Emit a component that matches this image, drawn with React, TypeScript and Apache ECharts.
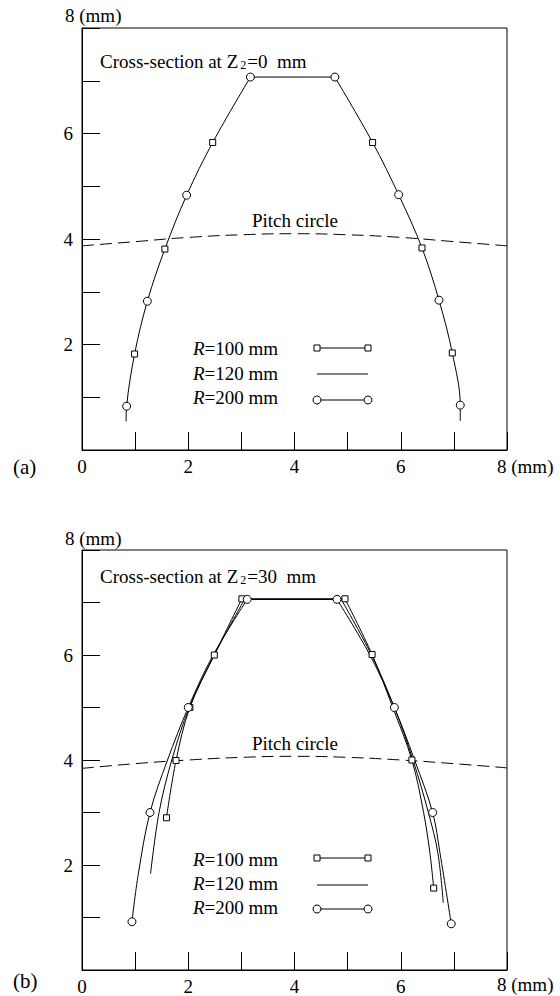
import React, { useEffect, useRef } from 'react';
import * as echarts from 'echarts';

const FONT = "'Liberation Serif', 'Times New Roman', serif";

// ---------- tick labels ----------
const xTickLabels = ['0', '2', '4', '6'];
const yTickLabels = ['2', '4', '6'];

// ---------- pitch circle (dashed) ----------
const pitchX = [0, 1, 2, 3, 4, 5, 6, 7, 8];
const pitchYa = [3.87, 3.95, 4.03, 4.08, 4.1, 4.08, 4.03, 3.95, 3.87];
const pitchYb = [3.84, 3.93, 4.0, 4.05, 4.07, 4.05, 4.0, 3.93, 3.85];

// ---------- (a) Z2 = 0 mm : the three profiles coincide ----------
const aLeft = [[0.83, 0.54], [0.84, 0.83], [0.99, 1.82], [1.23, 2.82], [1.56, 3.81], [1.97, 4.83], [2.46, 5.83], [3.17, 7.07]];
const aTop = [[3.17, 7.07], [4.76, 7.07]];
const aRight = [[4.76, 7.07], [5.47, 5.83], [5.96, 4.84], [6.4, 3.83], [6.72, 2.84], [6.97, 1.84], [7.12, 0.85], [7.12, 0.55]];
const aR100Marks = [[0.99, 1.82], [1.56, 3.81], [2.46, 5.83], [5.47, 5.83], [6.4, 3.83], [6.97, 1.84]];
const aR200Marks = [[0.84, 0.83], [1.23, 2.82], [1.97, 4.83], [3.17, 7.07], [4.76, 7.07], [5.96, 4.84], [6.72, 2.84], [7.12, 0.85]];

// ---------- (b) Z2 = 30 mm ----------
const bR100Left = [[1.59, 2.9], [1.77, 3.99], [2.03, 5.0], [2.49, 6.0], [3.01, 7.07]];
const bR100Top = [[3.01, 7.07], [4.95, 7.07]];
const bR100Right = [[4.95, 7.07], [5.46, 6.01], [5.85, 5.0], [6.21, 4.0], [6.43, 3.0], [6.55, 2.22], [6.62, 1.56]];
const bR100Marks = [[1.59, 2.9], [1.77, 3.99], [2.03, 5.0], [2.49, 6.0], [3.01, 7.07], [4.95, 7.07], [5.46, 6.01], [6.21, 4.0], [6.62, 1.56]];

const bR120Left = [[1.29, 1.83], [1.45, 3.0], [1.69, 4.0], [2.02, 5.0], [2.49, 6.0], [3.06, 7.06]];
const bR120Top = [[3.06, 7.06], [4.88, 7.06]];
const bR120Right = [[4.88, 7.06], [5.45, 6.0], [5.88, 5.0], [6.23, 4.0], [6.52, 3.0], [6.7, 2.22], [6.8, 1.28]];

const bR200Left = [[0.94, 0.92], [1.06, 1.83], [1.28, 3.0], [1.61, 4.0], [2.0, 5.0], [2.47, 6.0], [3.11, 7.06]];
const bR200Top = [[3.11, 7.06], [4.8, 7.06]];
const bR200Right = [[4.8, 7.06], [5.42, 6.0], [5.88, 5.0], [6.26, 4.0], [6.6, 3.0], [6.74, 2.22], [6.95, 0.88]];
const bR200Marks = [[0.94, 0.92], [1.28, 3.0], [2.0, 5.0], [3.11, 7.06], [4.8, 7.06], [5.88, 5.0], [6.6, 3.0], [6.95, 0.88]];

const legendNames = ['100', '120', '200'];

const lineS = (g: number, data: number[][], smooth: number | boolean = 0.35) => ({
  type: 'line', xAxisIndex: g, yAxisIndex: g, data, showSymbol: false, symbol: 'none',
  smooth, lineStyle: { color: '#000', width: 1 }, silent: true, z: 2,
});
const dashS = (g: number, ys: number[]) => ({
  type: 'line', xAxisIndex: g, yAxisIndex: g, data: pitchX.map((x, i) => [x, ys[i]]),
  showSymbol: false, symbol: 'none', smooth: 0.5,
  lineStyle: { color: '#000', width: 1, type: [12, 6] }, silent: true, z: 1,
});
const markS = (g: number, data: number[][], symbol: string, size: number) => ({
  type: 'scatter', xAxisIndex: g, yAxisIndex: g, data, symbol, symbolSize: size,
  itemStyle: { color: '#fff', borderColor: '#000', borderWidth: 1, opacity: 1 }, z: 5, silent: true,
});

const xAxisCfg = (g: number) => ({
  gridIndex: g, type: 'value', min: 0, max: 8, interval: 1,
  axisLine: { show: true, lineStyle: { color: '#000', width: 1 } },
  axisTick: { show: true, inside: true, length: 18, lineStyle: { color: '#000', width: 1 } },
  splitLine: { show: false },
  axisLabel: {
    margin: 7, color: '#000', fontFamily: FONT, fontSize: 19,
    formatter: (v: number) => (xTickLabels.includes(String(v)) ? String(v) : ''),
  },
});
const yAxisCfg = (g: number) => ({
  gridIndex: g, type: 'value', min: 0, max: 8, interval: 1,
  axisLine: { show: true, lineStyle: { color: '#000', width: 1 } },
  axisTick: { show: true, inside: true, length: 18, lineStyle: { color: '#000', width: 1 } },
  splitLine: { show: false },
  axisLabel: {
    margin: 9, color: '#000', fontFamily: FONT, fontSize: 19,
    formatter: (v: number) => (yTickLabels.includes(String(v)) ? String(v) : ''),
  },
});

const txt = (x: number, y: number, text: string, size = 19, rich: any = undefined) => ({
  type: 'text', x, y, silent: true,
  style: { text, fill: '#000', fontFamily: FONT, fontSize: size, verticalAlign: 'middle', align: 'left', rich },
});

const legendGraphics = (textY: number[], sampleY: number[]) => {
  const els: any[] = [];
  legendNames.forEach((n, i) => {
    els.push(txt(193, textY[i], `{i|R}=${n} mm`, 19, { i: { fontStyle: 'italic', fontFamily: FONT, fontSize: 19 } }));
  });
  const x1 = 317, x2 = 368;
  els.push({ type: 'line', silent: true, shape: { x1, y1: sampleY[0], x2, y2: sampleY[0] }, style: { stroke: '#000', lineWidth: 1 } });
  els.push({ type: 'rect', silent: true, shape: { x: x1 - 3, y: sampleY[0] - 3, width: 6, height: 6 }, style: { fill: '#fff', stroke: '#000', lineWidth: 1 } });
  els.push({ type: 'rect', silent: true, shape: { x: x2 - 3, y: sampleY[0] - 3, width: 6, height: 6 }, style: { fill: '#fff', stroke: '#000', lineWidth: 1 } });
  els.push({ type: 'line', silent: true, shape: { x1, y1: sampleY[1], x2, y2: sampleY[1] }, style: { stroke: '#000', lineWidth: 1 } });
  els.push({ type: 'line', silent: true, shape: { x1, y1: sampleY[2], x2, y2: sampleY[2] }, style: { stroke: '#000', lineWidth: 1 } });
  els.push({ type: 'circle', silent: true, shape: { cx: x1, cy: sampleY[2], r: 4 }, style: { fill: '#fff', stroke: '#000', lineWidth: 1 } });
  els.push({ type: 'circle', silent: true, shape: { cx: x2, cy: sampleY[2], r: 4 }, style: { fill: '#fff', stroke: '#000', lineWidth: 1 } });
  return els;
};

const subRich = { s: { fontSize: 12, fontFamily: FONT, padding: [8, 1, 0, 2] } };

const option: any = {
  animation: false,
  backgroundColor: '#fff',
  textStyle: { fontFamily: FONT },
  grid: [
    { left: 82, top: 28, width: 425, height: 422, show: true, borderColor: '#000', borderWidth: 1, backgroundColor: 'transparent' },
    { left: 82, top: 550, width: 425, height: 420, show: true, borderColor: '#000', borderWidth: 1, backgroundColor: 'transparent' },
  ],
  xAxis: [xAxisCfg(0), xAxisCfg(1)],
  yAxis: [yAxisCfg(0), yAxisCfg(1)],
  series: [
    dashS(0, pitchYa),
    lineS(0, aLeft), lineS(0, aTop, false), lineS(0, aRight),
    markS(0, aR100Marks, 'rect', 6),
    markS(0, aR200Marks, 'circle', 8),

    dashS(1, pitchYb),
    lineS(1, bR100Left), lineS(1, bR100Top, false), lineS(1, bR100Right),
    lineS(1, bR120Left), lineS(1, bR120Top, false), lineS(1, bR120Right),
    lineS(1, bR200Left), lineS(1, bR200Top, false), lineS(1, bR200Right),
    markS(1, bR100Marks, 'rect', 6),
    markS(1, bR200Marks, 'circle', 8),
  ],
  graphic: [
    txt(65, 15, '8 (mm)'),
    txt(497, 466, '8 (mm)'),
    txt(13, 467, '(a)', 21),
    txt(100, 61, 'Cross-section at Z{s|2}=0  mm', 19, subRich),
    txt(252, 220, 'Pitch circle'),
    ...legendGraphics([348, 373, 397], [348, 374, 400]),

    txt(65, 538, '8 (mm)'),
    txt(497, 984, '8 (mm)'),
    txt(13, 981, '(b)', 21),
    txt(100, 576, 'Cross-section at Z{s|2}=30  mm', 19, subRich),
    txt(252, 743, 'Pitch circle'),
    ...legendGraphics([859, 883, 907], [858, 885, 909]),
  ],
};

export default function App() {
  const ref = useRef<HTMLDivElement>(null);
  useEffect(() => {
    const chart = echarts.init(ref.current!, undefined, { renderer: 'svg' });
    chart.setOption(option);
    return () => chart.dispose();
  }, []);
  return (
    <div
      ref={ref}
      style={{ position: 'fixed', left: 0, top: 0, width: 560, height: 996, background: '#fff' }}
    />
  );
}
